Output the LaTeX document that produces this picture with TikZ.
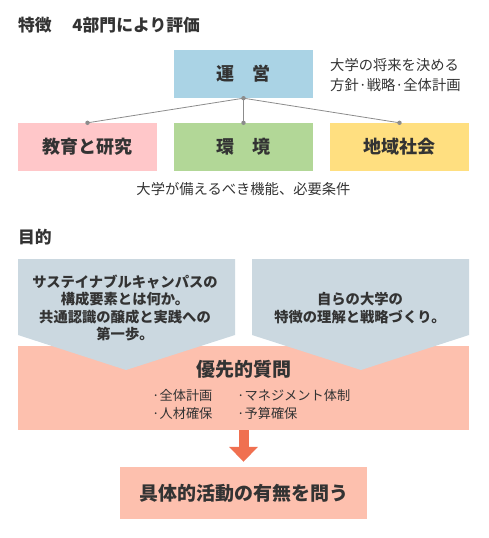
\documentclass[tikz,border=0pt]{standalone}
\usepackage{fontspec}
\setmainfont{Noto Sans CJK JP}
\usetikzlibrary{arrows.meta,positioning}
\definecolor{txtDark}   {RGB}{ 51,  51,  51}
\definecolor{uneiBlue}  {RGB}{170, 211, 229}
\definecolor{kyoPink}   {RGB}{255, 199, 201}
\definecolor{kanGreen}  {RGB}{178, 215, 151}
\definecolor{chiYellow} {RGB}{255, 223, 128}
\definecolor{mokGray}   {RGB}{203, 216, 224}
\definecolor{yuSalmon}  {RGB}{253, 192, 174}
\definecolor{yaRed}     {RGB}{240, 112,  80}
\definecolor{senGray}   {RGB}{140, 140, 140}

\begin{document}
\begin{tikzpicture}[x=1pt,y=-1pt,
    bumon/.style={inner sep=0pt,minimum width=139pt,minimum height=48pt,
                  font=\fontsize{18}{20}\selectfont\bfseries,text=txtDark},
    setsumei/.style={font=\fontsize{14.3}{19.5}\selectfont,text=txtDark,align=left},
    mokuteki/.style={font=\fontsize{14.3}{17.6}\selectfont\bfseries,text=txtDark,align=center},
    koumoku/.style={font=\fontsize{13.2}{16}\selectfont,text=txtDark,anchor=west,inner sep=0pt}]

    \useasboundingbox (0,0) rectangle (488,538);

    % ── 特徴 ─────────────────────────────────────────────
    \node[font=\fontsize{16.8}{18}\selectfont\bfseries,text=txtDark,anchor=west,inner sep=0pt]
          (midashiA) at (18,25){特徴　 4部門により評価};

    \node[bumon,fill=uneiBlue] (unei) at (243.5,74){運　営};
    \node[setsumei,anchor=west,inner sep=0pt] (uneiSetsu) at (330,75)
          {大学の将来を決める\\方針·戦略·全体計画};

    \node[bumon,fill=kyoPink]   (kyoiku) at (87.5,147){教育と研究};
    \node[bumon,fill=kanGreen]  (kankyo) at (243.5,147){環　境};
    \node[bumon,fill=chiYellow] (chiiki) at (399.5,147){地域社会};

    % 結線
    \foreach \b in {kyoiku,kankyo,chiiki}{
      \draw[senGray,line width=0.8pt](unei.south)--(\b.north);
      \fill[senGray](\b.north) circle (2.2pt);
    }
    \draw[senGray,line width=1.6pt](unei.south)--(kankyo.north);
    \fill[senGray](unei.south) circle (2.2pt);

    \node[setsumei] (kinou) at (243.5,189){大学が備えるべき機能、必要条件};

    % ── 目的 ─────────────────────────────────────────────
    \node[font=\fontsize{16.8}{18}\selectfont\bfseries,text=txtDark,anchor=west,inner sep=0pt]
          (midashiB) at (18,237){目的};

    \node[fill=yuSalmon,inner sep=0pt,minimum width=451pt,minimum height=84pt]
          (yusen) at (243.5,388){};

    \fill[mokGray] (18,259) -- (235,259) -- (235,335) -- (126,370) -- (18,335) -- cycle;
    \fill[mokGray] (252,259) -- (469,259) -- (469,335) -- (361,370) -- (252,335) -- cycle;

    \node[mokuteki] (mokA) at (125,308)
          {サステイナブルキャンパスの\\構成要素とは何か。\\共通認識の醸成と実践への\\第一歩。};
    \node[mokuteki] (mokB) at (360,308){自らの大学の\\特徴の理解と戦略づくり。};

    \node[font=\fontsize{19}{21}\selectfont\bfseries,text=txtDark] (yusenTitle) at (244,369){優先的質問};
    \node[koumoku] (k1) at (152,395){·全体計画};
    \node[koumoku] (k2) at (237,395){·マネジメント体制};
    \node[koumoku] (k3) at (152,413){·人材確保};
    \node[koumoku] (k4) at (237,413){·予算確保};

    \node[fill=yuSalmon,inner sep=0pt,minimum width=247pt,minimum height=52pt,
          font=\fontsize{19}{21}\selectfont\bfseries,text=txtDark]
          (gutai) at (243.5,493){具体的活動の有無を問う};

    \draw[-{Triangle[width=28pt,length=15pt]},yaRed,line width=10pt,shorten >=5pt]
          (yusen.south)--(gutai.north);

\end{tikzpicture}
\end{document}
